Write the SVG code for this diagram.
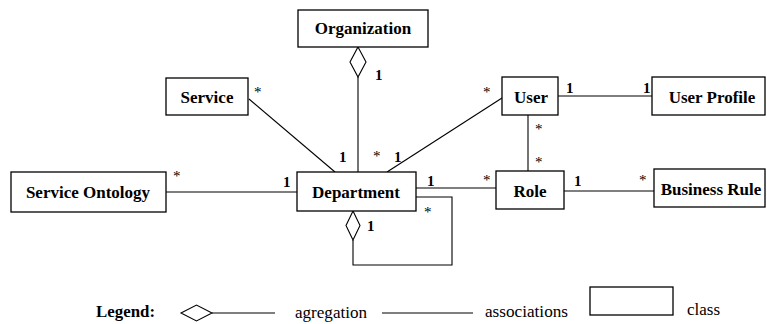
<svg xmlns="http://www.w3.org/2000/svg" width="767" height="324" viewBox="0 0 767 324">
<style>
.box{fill:#fff;stroke:#000;stroke-width:1.3}
.ln{fill:none;stroke:#000;stroke-width:1.1}
.dia{fill:#fff;stroke:#000;stroke-width:1.1}
text{font-family:"Liberation Serif","DejaVu Serif","Noto Serif",Times,serif}
.t{font-weight:bold;font-size:17px;text-anchor:middle;fill:#000}
.m{font-weight:bold;font-size:15px;fill:#000}
.s{font-size:15px;fill:#000}
.lg{font-size:17px;fill:#000}
</style>
<rect width="767" height="324" fill="#fff"/>
<g id="connectors">
<line class="ln" x1="358" y1="77" x2="358" y2="172"/>
<line class="ln" x1="249" y1="99" x2="335" y2="172"/>
<line class="ln" x1="166" y1="192" x2="297" y2="192"/>
<line class="ln" x1="502" y1="98" x2="387" y2="172"/>
<line class="ln" x1="558" y1="96" x2="652" y2="96"/>
<line class="ln" x1="528" y1="115" x2="528" y2="171"/>
<line class="ln" x1="416" y1="188" x2="496" y2="188"/>
<line class="ln" x1="564" y1="191" x2="654" y2="191"/>
<polyline class="ln" points="416,197 452,197 452,265 353,265 353,240"/>
<polygon class="dia" points="358,47 366,62 358,77 350,62"/>
<polygon class="dia" points="353,211 360,225.5 353,240 346,225.5"/>
<text class="m" x="375" y="80">1</text>
<text class="s" x="254" y="97">*</text>
<text class="m" x="339" y="162">1</text>
<text class="s" x="373" y="161">*</text>
<text class="m" x="394" y="162">1</text>
<text class="s" x="173" y="181">*</text>
<text class="m" x="283" y="187">1</text>
<text class="s" x="483" y="97">*</text>
<text class="m" x="566" y="93">1</text>
<text class="m" x="643" y="93">1</text>
<text class="s" x="535" y="134">*</text>
<text class="s" x="535" y="167">*</text>
<text class="m" x="427" y="186">1</text>
<text class="s" x="483" y="185">*</text>
<text class="m" x="574" y="186">1</text>
<text class="s" x="639" y="185">*</text>
<text class="m" x="367" y="231">1</text>
<text class="s" x="424" y="217">*</text>
</g>
<g id="organization"><rect class="box" x="298" y="10" width="130" height="37"/><text class="t" x="363" y="34">Organization</text></g>
<g id="service"><rect class="box" x="166" y="78" width="82" height="37"/><text class="t" x="207" y="103">Service</text></g>
<g id="service-ontology"><rect class="box" x="11" y="172" width="155" height="40"/><text class="t" x="88" y="198">Service Ontology</text></g>
<g id="department"><rect class="box" x="297" y="172" width="119" height="39"/><text class="t" x="356" y="198">Department</text></g>
<g id="user"><rect class="box" x="502" y="77" width="56" height="38"/><text class="t" x="531" y="103">User</text></g>
<g id="user-profile"><rect class="box" x="652" y="77" width="113" height="38"/><text class="t" x="712" y="103">User Profile</text></g>
<g id="role"><rect class="box" x="496" y="171" width="68" height="38"/><text class="t" x="530" y="197">Role</text></g>
<g id="business-rule"><rect class="box" x="654" y="169" width="111" height="38"/><text class="t" x="711" y="195">Business Rule</text></g>
<g id="legend">
<text class="lg" font-weight="bold" x="96" y="317" textLength="59" lengthAdjust="spacingAndGlyphs">Legend:</text>
<polygon class="dia" points="181,313 196.5,305 212,313 196.5,321"/>
<line class="ln" x1="212" y1="313" x2="275" y2="313"/>
<text class="lg" x="295" y="318" textLength="72" lengthAdjust="spacingAndGlyphs">agregation</text>
<line class="ln" x1="382" y1="313" x2="473" y2="313"/>
<text class="lg" x="485" y="317" textLength="83" lengthAdjust="spacingAndGlyphs">associations</text>
<rect class="box" x="590" y="287" width="83" height="28"/>
<text class="lg" x="687" y="315" textLength="33" lengthAdjust="spacingAndGlyphs">class</text>
</g>
</svg>
